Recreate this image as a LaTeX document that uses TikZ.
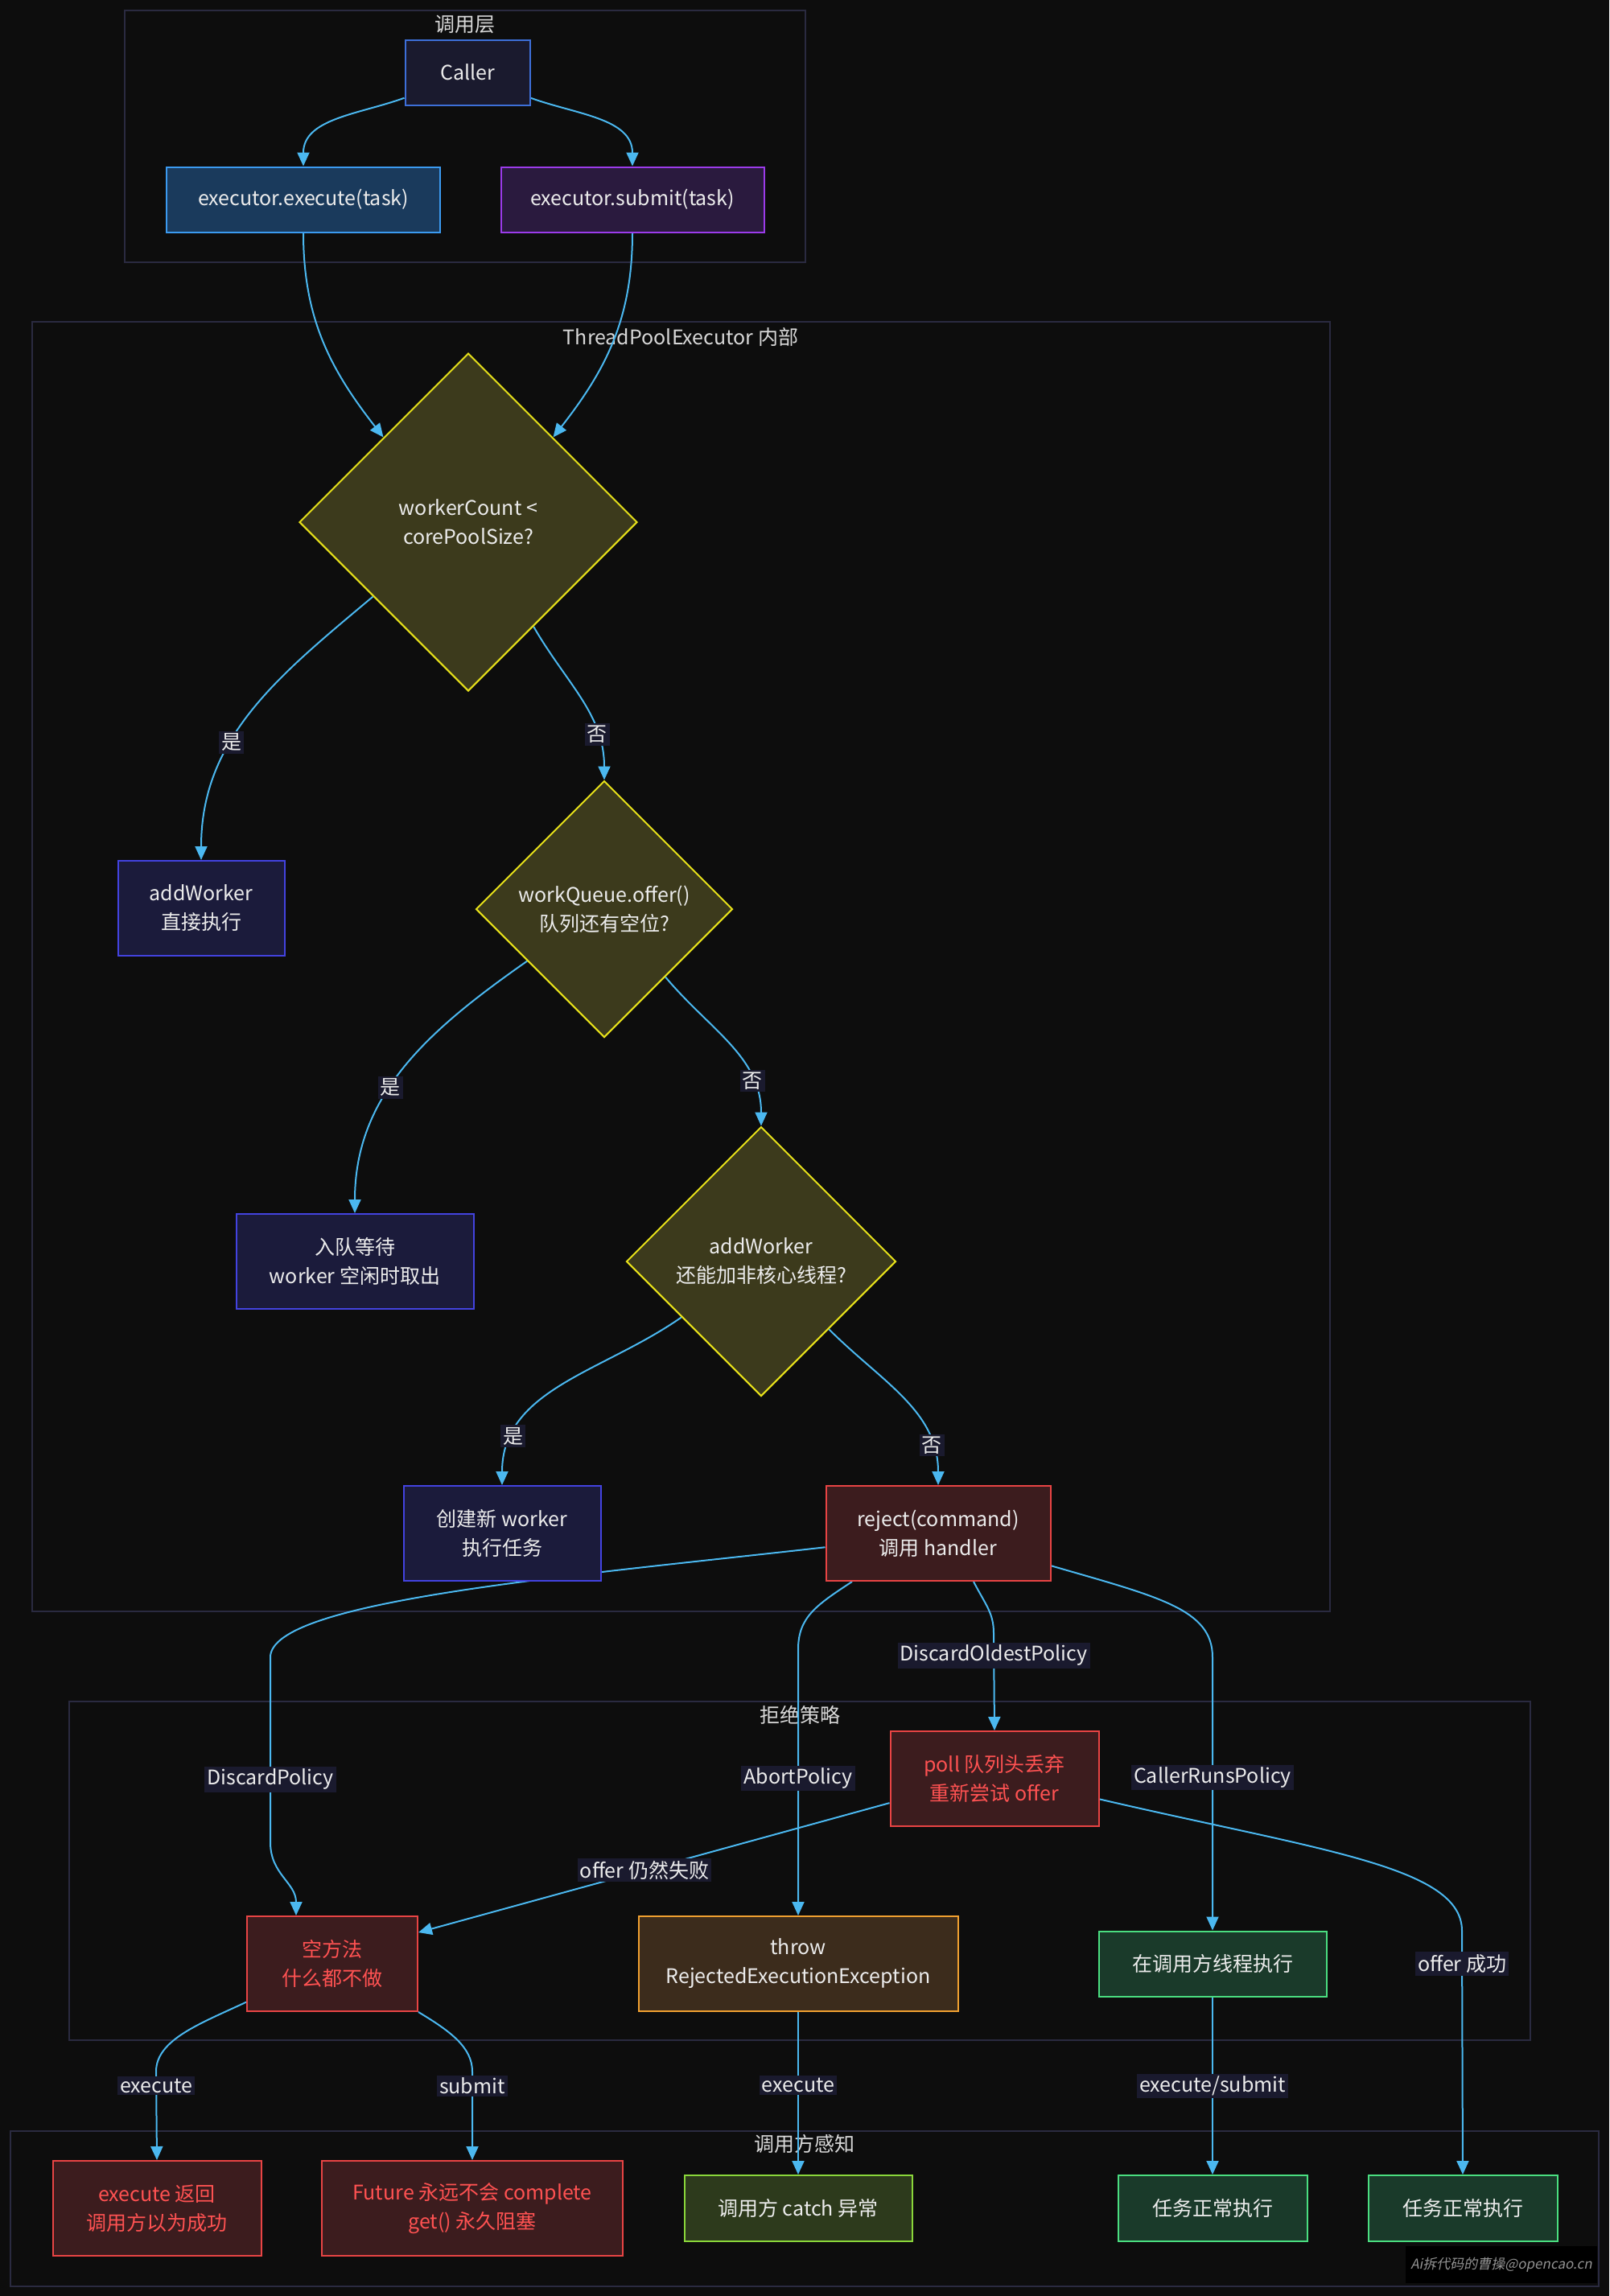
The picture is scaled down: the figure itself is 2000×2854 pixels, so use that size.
\documentclass[tikz,border=0pt]{standalone}
\usepackage{fontspec}
\setmainfont{Noto Sans CJK SC}
\newfontfamily\markfont[FakeSlant=0.2]{Noto Sans CJK SC}
\usetikzlibrary{shapes.geometric,arrows.meta}
\definecolor{bgDark}{HTML}{0D0D0D}
\definecolor{groupLine}{HTML}{2A2A40}
\definecolor{groupText}{HTML}{D8D8D8}
\definecolor{flowBlue}{HTML}{4BB8F0}
\definecolor{lblFill}{HTML}{1A1A2E}
\definecolor{txtLight}{HTML}{ECECEC}
\definecolor{callerFill}{HTML}{1A1A2E}
\definecolor{callerLine}{HTML}{3D6FD8}
\definecolor{execFill}{HTML}{1A3A5C}
\definecolor{execLine}{HTML}{3B9AF0}
\definecolor{submitFill}{HTML}{2A1A3E}
\definecolor{submitLine}{HTML}{9B3BEA}
\definecolor{askFill}{HTML}{3C3A1C}
\definecolor{askLine}{HTML}{E6E01A}
\definecolor{stepFill}{HTML}{1B1B3B}
\definecolor{stepLine}{HTML}{4343E0}
\definecolor{badFill}{HTML}{3C1C1E}
\definecolor{badLine}{HTML}{E84444}
\definecolor{badText}{HTML}{FF5252}
\definecolor{warnFill}{HTML}{3C2C1C}
\definecolor{warnLine}{HTML}{F0A030}
\definecolor{okFill}{HTML}{1A3A2A}
\definecolor{okLine}{HTML}{4ADE80}
\definecolor{catchFill}{HTML}{2D3A1C}
\definecolor{catchLine}{HTML}{8AD63A}
\pgfdeclarelayer{back}
\pgfdeclarelayer{wires}
\pgfsetlayers{back,wires,main}
\tikzset{
  procNode/.style={rectangle,draw,line width=2pt,align=center,inner sep=0pt,text=txtLight,font=\fontsize{25}{36}\selectfont},
  askNode/.style={diamond,aspect=1,draw=askLine,fill=askFill,line width=2pt,align=center,inner sep=0pt,text=txtLight,font=\fontsize{25}{36}\selectfont},
  groupBox/.style={draw=groupLine,line width=2pt},
  groupTitle/.style={text=groupText,font=\fontsize{25}{30}\selectfont},
  wire/.style={draw=flowBlue,line width=2pt,-{Triangle[length=17pt,width=15pt]}},
  edgeLbl/.style={fill=lblFill,text=txtLight,inner sep=3pt,font=\fontsize{25}{30}\selectfont}
}
\begin{document}
\begin{tikzpicture}[x=1pt,y=1pt]
  \useasboundingbox (0,0) rectangle (2000,-2854);
  \begin{pgfonlayer}{back}
    \fill[bgDark] (0,0) rectangle (2000,-2854);
    \draw[groupBox] (155,-13) rectangle (1001,-326);
    \node[groupTitle] (tCall) at (578,-30) {调用层};
    \draw[groupBox] (40,-400) rectangle (1653,-2003);
    \node[groupTitle] (tPool) at (846,-419) {ThreadPoolExecutor 内部};
    \draw[groupBox] (86,-2115) rectangle (1902,-2536);
    \node[groupTitle] (tReject) at (994,-2132) {拒绝策略};
    \draw[groupBox] (13,-2649) rectangle (1987,-2842);
    \node[groupTitle] (tSense) at (1000,-2665) {调用方感知};
  \end{pgfonlayer}

  \node[procNode,draw=callerLine,fill=callerFill,minimum width=155pt,minimum height=81pt] (caller) at (581,-90) {Caller};
  \node[procNode,draw=execLine,fill=execFill,minimum width=340pt,minimum height=81pt] (exec) at (377,-248) {executor.execute(task)};
  \node[procNode,draw=submitLine,fill=submitFill,minimum width=327pt,minimum height=81pt] (submit) at (786,-248) {executor.submit(task)};

  \node[askNode,minimum size=420pt] (d1) at (582,-649) {workerCount <\\corePoolSize?};
  \node[procNode,draw=stepLine,fill=stepFill,minimum width=207pt,minimum height=118pt] (addw) at (250,-1129) {addWorker\\直接执行};
  \node[askNode,minimum size=319pt] (d2) at (751,-1130) {workQueue.offer()\\队列还有空位?};
  \node[procNode,draw=stepLine,fill=stepFill,minimum width=295pt,minimum height=118pt] (enq) at (441,-1568) {入队等待\\worker 空闲时取出};
  \node[askNode,minimum size=335pt] (d3) at (946,-1568) {addWorker\\还能加非核心线程?};
  \node[procNode,draw=stepLine,fill=stepFill,minimum width=245pt,minimum height=118pt] (spawn) at (624,-1906) {创建新 worker\\执行任务};
  \node[procNode,draw=badLine,fill=badFill,minimum width=279pt,minimum height=118pt] (rej) at (1166,-1906) {reject(command)\\调用 handler};

  \node[procNode,draw=badLine,fill=badFill,text=badText,minimum width=259pt,minimum height=118pt] (oldest) at (1236,-2211) {poll 队列头丢弃\\重新尝试 offer};
  \node[procNode,draw=badLine,fill=badFill,text=badText,minimum width=212pt,minimum height=118pt] (noop) at (413,-2441) {空方法\\什么都不做};
  \node[procNode,draw=warnLine,fill=warnFill,minimum width=397pt,minimum height=118pt] (abort) at (992,-2441) {throw\\RejectedExecutionException};
  \node[procNode,draw=okLine,fill=okFill,minimum width=283pt,minimum height=81pt] (runner) at (1507,-2441) {在调用方线程执行};

  \node[procNode,draw=badLine,fill=badFill,text=badText,minimum width=259pt,minimum height=118pt] (silent) at (195,-2745) {execute 返回\\调用方以为成功};
  \node[procNode,draw=badLine,fill=badFill,text=badText,minimum width=374pt,minimum height=118pt] (hang) at (587,-2745) {Future 永远不会 complete\\get() 永久阻塞};
  \node[procNode,draw=catchLine,fill=catchFill,minimum width=283pt,minimum height=82pt] (caught) at (992,-2745) {调用方 catch 异常};
  \node[procNode,draw=okLine,fill=okFill,minimum width=235pt,minimum height=82pt] (runA) at (1507,-2745) {任务正常执行};
  \node[procNode,draw=okLine,fill=okFill,minimum width=235pt,minimum height=82pt] (runB) at (1818,-2745) {任务正常执行};

  \node[fill=black,text=gray!85,minimum width=238pt,minimum height=46pt,inner sep=0pt,font=\markfont\fontsize{17}{20}\selectfont] (mark) at (1866,-2815) {Ai拆代码的曹操@opencao.cn};

  \begin{pgfonlayer}{wires}
    \draw[wire] (caller.202) to[out=200,in=90] (exec.north);
    \draw[wire] (caller.338) to[out=-20,in=90] (submit.north);
    \draw[wire] (exec.south) to[out=-90,in=128] (d1.135);
    \draw[wire] (submit.south) to[out=-90,in=52] (d1.45);
    \draw[wire] (d1.218) to[out=220,in=90] node[edgeLbl,pos=0.62] {是} (addw.north);
    \draw[wire] (d1.302) to[out=-60,in=90] node[edgeLbl,pos=0.74] {否} (d2.north);
    \draw[wire] (d2.214) to[out=215,in=90] node[edgeLbl,pos=0.58] {是} (enq.north);
    \draw[wire] (d2.312) to[out=-50,in=90] node[edgeLbl,pos=0.75] {否} (d3.north);
    \draw[wire] (d3.215) to[out=215,in=90] node[edgeLbl,pos=0.8] {是} (spawn.north);
    \draw[wire] (d3.315) to[out=-45,in=90] node[edgeLbl,pos=0.8] {否} (rej.north);

    \draw[wire] (rej.187) .. controls (700,-1960) and (336,-1990) .. (336,-2060)
      -- node[edgeLbl,pos=0.66] {DiscardPolicy} (336,-2290)
      .. controls (336,-2330) and (368,-2340) .. ([xshift=-45pt]noop.north);
    \draw[wire] ([xshift=-107pt]rej.south) .. controls (1015,-1995) and (992,-2010) .. (992,-2050)
      -- node[edgeLbl,pos=0.485] {AbortPolicy} (abort.north);
    \draw[wire] ([xshift=44pt]rej.south) .. controls (1225,-1995) and (1235,-2005) .. (1235,-2030)
      -- node[edgeLbl,pos=0.23] {DiscardOldestPolicy} (oldest.north);
    \draw[wire] (rej.344) .. controls (1440,-1985) and (1507,-2000) .. (1507,-2060)
      -- node[edgeLbl,pos=0.44] {CallerRunsPolicy} (runner.north);

    \draw[wire] (oldest.193) -- node[edgeLbl,pos=0.52] {offer 仍然失败} (noop.20);
    \draw[wire] (oldest.349) .. controls (1640,-2300) and (1817,-2320) .. (1817,-2400)
      -- node[edgeLbl,pos=0.135] {offer 成功} (runB.north);

    \draw[wire] (noop.204) .. controls (250,-2515) and (194,-2535) .. (194,-2575)
      -- node[edgeLbl,pos=0.16] {execute} (silent.north);
    \draw[wire] (noop.south east) .. controls (560,-2525) and (587,-2545) .. (587,-2575)
      -- node[edgeLbl,pos=0.16] {submit} (hang.north);
    \draw[wire] (abort.south) -- node[edgeLbl,pos=0.45] {execute} (caught.north);
    \draw[wire] (runner.south) -- node[edgeLbl] {execute/submit} (runA.north);
  \end{pgfonlayer}
\end{tikzpicture}
\end{document}
